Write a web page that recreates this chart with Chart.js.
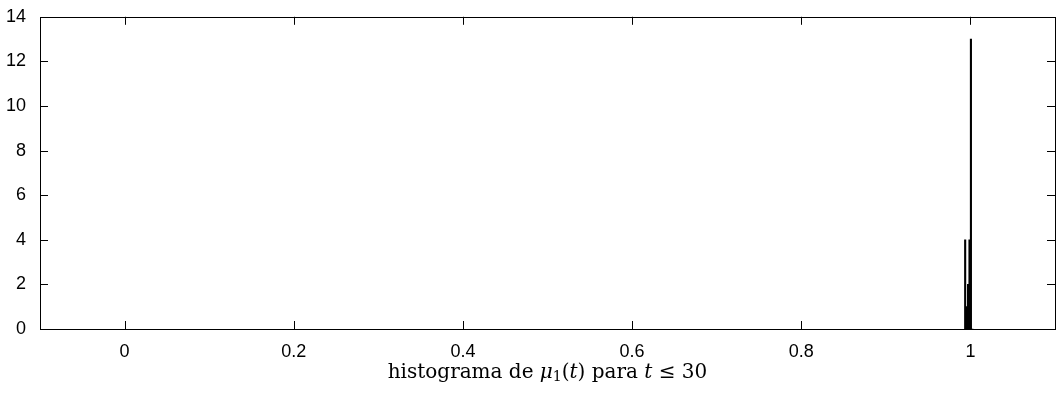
<!DOCTYPE html>
<html>
<head>
<meta charset="utf-8">
<script src="https://cdn.jsdelivr.net/npm/chart.js@4.4.0/dist/chart.umd.min.js"></script>
<style>
  html, body { margin: 0; padding: 0; background: #fff; }
  #wrap { width: 1056px; height: 399px; }
</style>
</head>
<body>
<div id="wrap"><canvas id="myChart" width="1056" height="399"></canvas></div>
<script>
// histogram bins (centres) and counts
const binCenters = [0.9938, 0.9955, 0.9972, 0.9989, 1.0006, 1.0023];
const binCounts = [4, 1, 2, 4, 13, 0];
const xTicks = [0, 0.2, 0.4, 0.6, 0.8, 1];
const yTicks = [0, 2, 4, 6, 8, 10, 12, 14];

const ctx = document.getElementById('myChart').getContext('2d');
const points = binCenters.map((c, i) => ({ x: c, y: binCounts[i] }));

// matlab style ticks pointing inward on all four sides + box
const boxTicks = {
    id: 'boxTicks',
    afterDraw(chart) {
        const { ctx, chartArea: a, scales } = chart;
        const len = 8;
        ctx.save();
        ctx.strokeStyle = '#000';
        ctx.lineWidth = 1;
        ctx.beginPath();
        xTicks.forEach(v => {
            const px = Math.round(scales.x.getPixelForValue(v)) + 0.5;
            ctx.moveTo(px, a.bottom); ctx.lineTo(px, a.bottom - len);
            ctx.moveTo(px, a.top); ctx.lineTo(px, a.top + len);
        });
        yTicks.forEach(v => {
            const py = Math.round(scales.y.getPixelForValue(v)) + 0.5;
            ctx.moveTo(a.left, py); ctx.lineTo(a.left + len, py);
            ctx.moveTo(a.right, py); ctx.lineTo(a.right - len, py);
        });
        ctx.stroke();
        ctx.strokeRect(Math.round(a.left) + 0.5, Math.round(a.top) + 0.5,
            Math.round(a.right - a.left), Math.round(a.bottom - a.top));

        // x label, latex-like: upright words, italic math
        const parts = [
            ['histograma de ', 'normal'],
            ['μ', 'italic'],
            ['1', 'normal', 'sub'],
            ['(', 'normal'],
            ['t', 'italic'],
            [')', 'normal'],
            [' para ', 'normal'],
            ['t', 'italic'],
            [' ≤ ', 'normal'],
            ['30', 'normal'],
        ];
        const size = 20;
        const fontOf = (p) => `${p[1]} ${p[2] ? 14 : size}px "DejaVu Serif"`;
        let total = 0;
        parts.forEach(p => { ctx.font = fontOf(p); total += ctx.measureText(p[0]).width; });
        let x = (a.left + a.right) / 2 - total / 2;
        const y = 378;
        ctx.fillStyle = '#000';
        ctx.textBaseline = 'alphabetic';
        ctx.textAlign = 'left';
        parts.forEach(p => {
            ctx.font = fontOf(p);
            ctx.fillText(p[0], x, p[2] ? y + 3 : y);
            x += ctx.measureText(p[0]).width;
        });
        ctx.restore();
    }
};

const myChart = new Chart(ctx, {
    type: 'bar',
    data: {
        datasets: [{
            data: points,
            backgroundColor: '#000',
            borderWidth: 0,
            barPercentage: 1,
            categoryPercentage: 1,
        }],
    },
    options: {
        responsive: false,
        animation: false,
        layout: {
            padding: { top: 14, right: 1, left: 0, bottom: 0 },
        },
        scales: {
            x: {
                type: 'linear',
                min: -0.1,
                max: 1.1,
                offset: false,
                grid: { display: false, offset: false },
                border: { display: false },
                afterBuildTicks: (scale) => {
                    scale.ticks = xTicks.map(v => ({ value: v }));
                },
                afterFit: (scale) => { scale.height = 70; },
                ticks: {
                    color: '#000',
                    padding: 4,
                    font: { family: 'Liberation Sans', size: 18 },
                    callback: (v) => String(v),
                },
            },
            y: {
                min: 0,
                max: 14,
                grid: { display: false },
                border: { display: false },
                afterBuildTicks: (scale) => {
                    scale.ticks = yTicks.map(v => ({ value: v }));
                },
                afterFit: (scale) => { scale.width = 40; },
                ticks: {
                    color: '#000',
                    padding: 6,
                    font: { family: 'Liberation Sans', size: 18 },
                },
            },
        },
        plugins: {
            legend: { display: false },
            tooltip: { enabled: false },
        },
    },
    plugins: [boxTicks],
});
</script>
</body>
</html>
